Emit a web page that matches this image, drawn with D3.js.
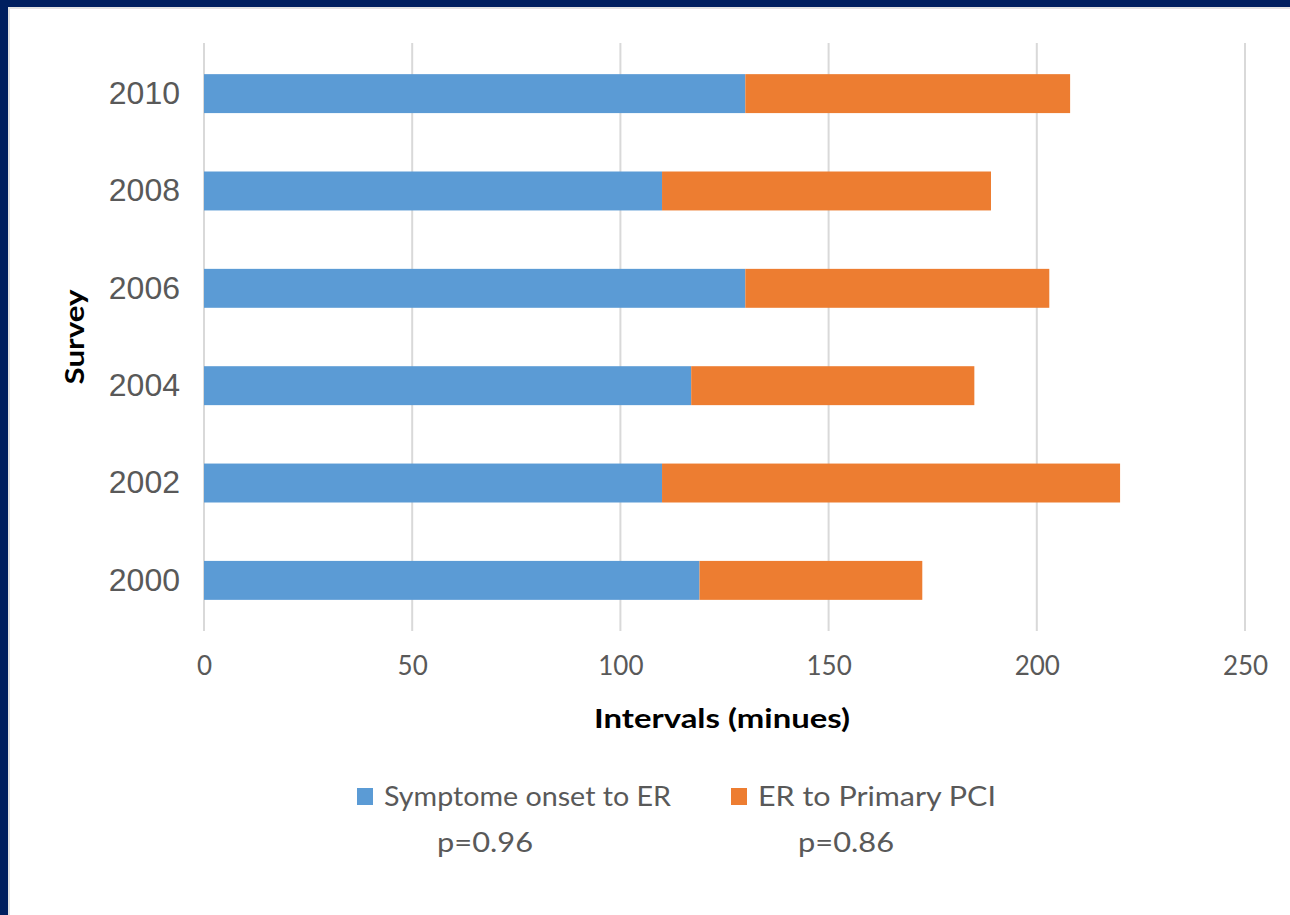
<!DOCTYPE html>
<html>
<head>
<meta charset="utf-8">
<script src="https://cdn.jsdelivr.net/npm/d3@7"></script>
<style>
  html, body { margin: 0; padding: 0; background: #fff; }
  svg { display: block; }
</style>
</head>
<body>
<svg id="chart" width="1290" height="915"></svg>
<script>
// Survey years, top to bottom
const surveys = ["2010", "2008", "2006", "2004", "2002", "2000"];
// Minutes from symptom onset to emergency room
const onsetToER = [130, 110, 130, 117, 110, 119];
// Minutes from emergency room to primary PCI
const erToPCI = [78, 79, 73, 68, 110, 53.5];
const xTicks = [0, 50, 100, 150, 200, 250];
const seriesNames = ["Symptome onset to ER", "ER to Primary PCI"];
const pValues = ["p=0.96", "p=0.86"];
const colors = ["#5b9bd5", "#ed7d31"];

const svg = d3.select("#chart");

// frame: navy edge along top and left
svg.append("rect").attr("x", 0).attr("y", 0).attr("width", 1290).attr("height", 915).attr("fill", "#fff");
svg.append("rect").attr("x", 0).attr("y", 0).attr("width", 1290).attr("height", 7).attr("fill", "#001f5f");
svg.append("rect").attr("x", 0).attr("y", 0).attr("width", 8).attr("height", 915).attr("fill", "#001f5f");
svg.append("rect").attr("x", 8).attr("y", 7).attr("width", 1282).attr("height", 2).attr("fill", "#e3e3e3");
svg.append("rect").attr("x", 8).attr("y", 7).attr("width", 2).attr("height", 908).attr("fill", "#e3e3e3");

const plotLeft = 204, plotRight = 1245, plotTop = 43, plotBottom = 631;

const x = d3.scaleLinear().domain([0, 250]).range([plotLeft, plotRight]);
const y = d3.scaleBand().domain(surveys).range([plotTop, plotBottom]).paddingInner(0.6).paddingOuter(0.32);

// vertical gridlines
svg.append("g").selectAll("line").data(xTicks).join("line")
  .attr("x1", d => x(d)).attr("x2", d => x(d))
  .attr("y1", plotTop).attr("y2", plotBottom)
  .attr("stroke", "#d9d9d9").attr("stroke-width", 2);

// stacked bars
const rows = surveys.map((s, i) => ({ s, a: onsetToER[i], b: erToPCI[i] }));
const stack = d3.stack().keys(["a", "b"])(rows);
svg.append("g").selectAll("g").data(stack).join("g")
  .attr("fill", (d, i) => colors[i])
  .selectAll("rect").data(d => d).join("rect")
  .attr("x", d => x(d[0]))
  .attr("width", d => x(d[1]) - x(d[0]))
  .attr("y", d => y(d.data.s))
  .attr("height", y.bandwidth());

// y axis labels
const yAxis = svg.append("g").attr("transform", `translate(${plotLeft},0)`)
  .call(d3.axisLeft(y).tickSize(0).tickPadding(24));
yAxis.select(".domain").remove();
yAxis.selectAll("text")
  .attr("font-family", "Liberation Sans, Arial, sans-serif")
  .attr("font-size", 32).attr("fill", "#595959");

// x axis labels
const xAxis = svg.append("g").attr("transform", `translate(0,${plotBottom})`)
  .call(d3.axisBottom(x).tickValues(xTicks).tickSize(0).tickPadding(26));
xAxis.select(".domain").remove();
xAxis.selectAll("text")
  .attr("font-family", "Lato, sans-serif")
  .attr("font-size", 26).attr("fill", "#595959");

// axis titles
svg.append("text").attr("x", 722).attr("y", 728)
  .attr("text-anchor", "middle")
  .attr("font-family", "Lato, sans-serif").attr("font-weight", "bold")
  .attr("font-size", 27).attr("fill", "#000")
  .attr("textLength", 256).attr("lengthAdjust", "spacingAndGlyphs")
  .text("Intervals (minues)");

svg.append("text")
  .attr("transform", "translate(84,337) rotate(-90)")
  .attr("text-anchor", "middle")
  .attr("font-family", "Lato, sans-serif").attr("font-weight", "bold")
  .attr("font-size", 27).attr("fill", "#000")
  .attr("textLength", 95).attr("lengthAdjust", "spacingAndGlyphs")
  .text("Survey");

// legend
const legendX = [357, 731];
const legendW = [287, 238];
const pX = [80, 67];
const legend = svg.append("g").selectAll("g").data(seriesNames).join("g")
  .attr("transform", (d, i) => `translate(${legendX[i]},0)`);
legend.append("rect").attr("x", 0).attr("y", 788).attr("width", 16).attr("height", 17)
  .attr("fill", (d, i) => colors[i]);
legend.append("text").attr("x", 27).attr("y", 806)
  .attr("font-family", "Lato, sans-serif").attr("font-size", 26).attr("fill", "#595959")
  .attr("textLength", (d, i) => legendW[i]).attr("lengthAdjust", "spacingAndGlyphs")
  .text(d => d);
legend.append("text").attr("x", (d, i) => pX[i]).attr("y", 852)
  .attr("font-family", "Lato, sans-serif").attr("font-size", 26).attr("fill", "#595959")
  .attr("textLength", 96).attr("lengthAdjust", "spacingAndGlyphs")
  .text((d, i) => pValues[i]);
</script>
</body>
</html>
